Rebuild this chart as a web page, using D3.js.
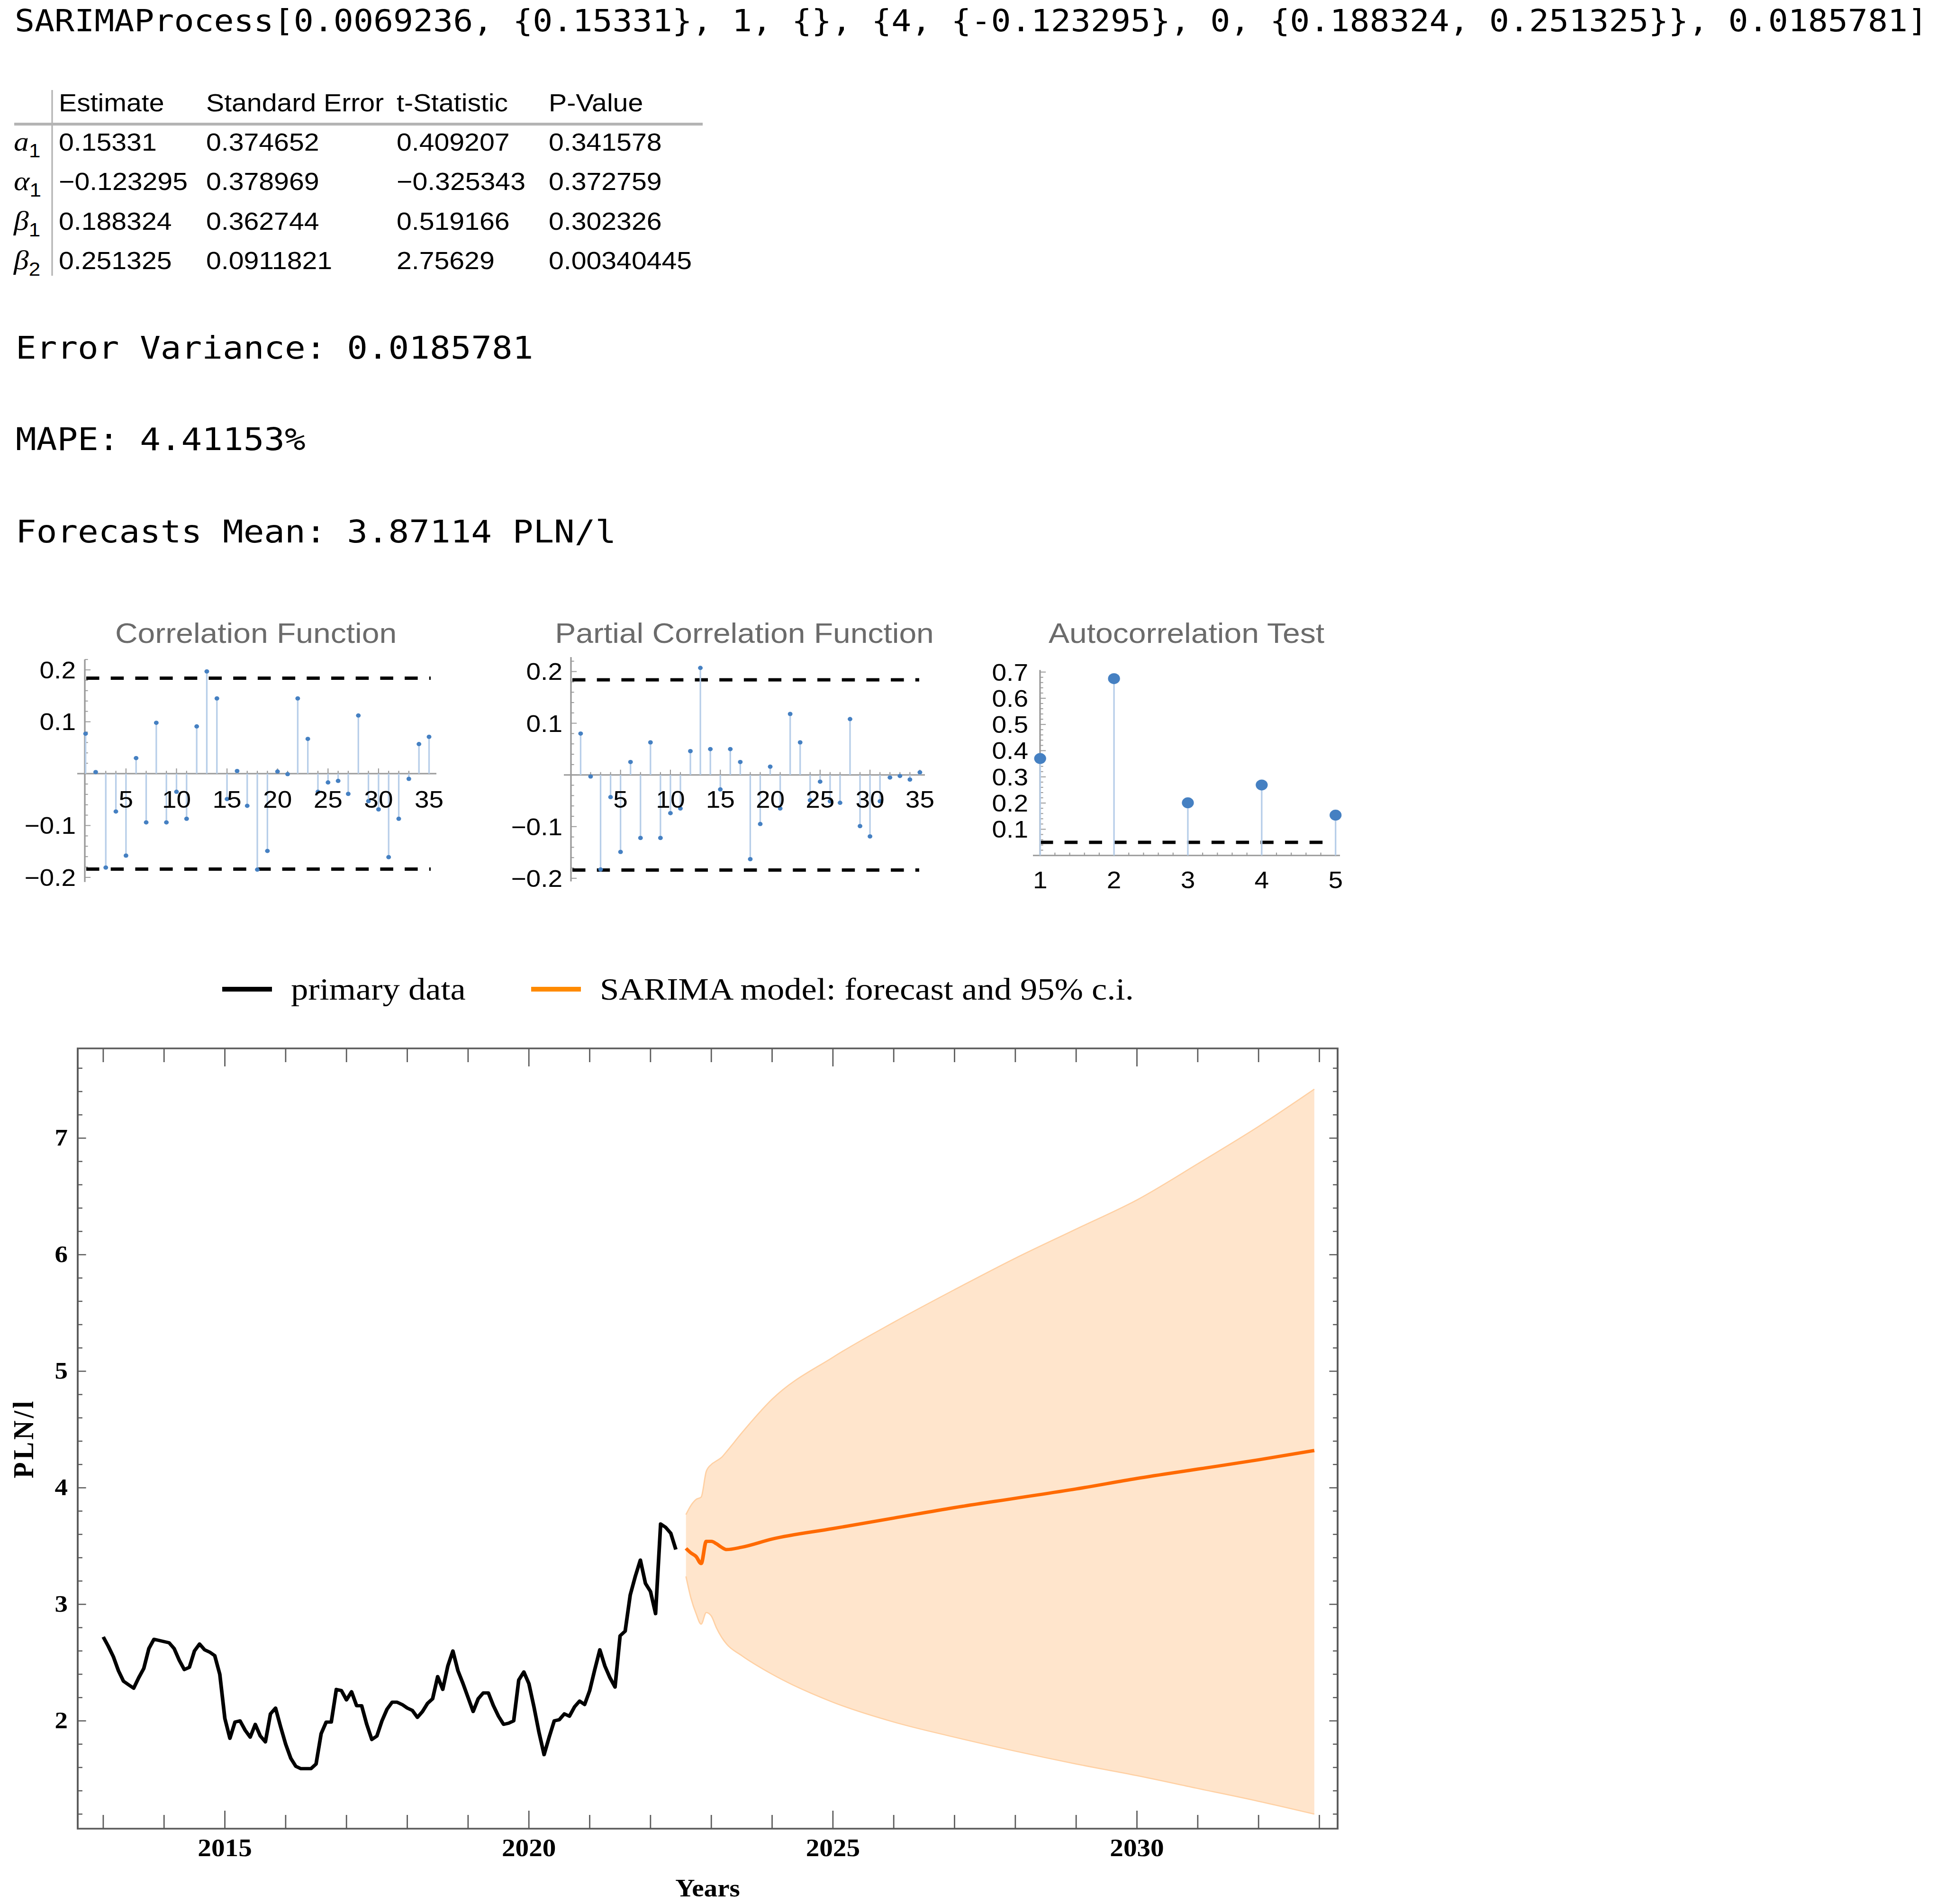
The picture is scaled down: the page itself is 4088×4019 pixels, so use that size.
<!DOCTYPE html>
<html>
<head>
<meta charset="utf-8">
<script src="https://cdn.jsdelivr.net/npm/d3@7"></script>
<style>
  html, body { margin: 0; padding: 0; background: #fff; }
  svg { display: block; }
</style>
</head>
<body>
<svg id="chart"></svg>
<script>
// ---------------- data ----------------
const processText = 'SARIMAProcess[0.0069236, {0.15331}, 1, {}, {4, {-0.123295}, 0, {0.188324, 0.251325}}, 0.0185781]'
const summaryLines = ['Error Variance: 0.0185781', 'MAPE: 4.41153%', 'Forecasts Mean: 3.87114 PLN/l']

const tableHeader = ['Estimate', 'Standard Error', 't-Statistic', 'P-Value']
const paramSymbols = ['a', 'α', 'β', 'β']
const paramIndex = ['1', '1', '1', '2']
const estimates = ['0.15331', '−0.123295', '0.188324', '0.251325']
const stdErrors = ['0.374652', '0.378969', '0.362744', '0.0911821']
const tStats = ['0.409207', '−0.325343', '0.519166', '2.75629']
const pValues = ['0.341578', '0.372759', '0.302326', '0.00340445']

// residual correlation functions, lags 1..35
const acfValues = [0.077, 0.003, -0.181, -0.073, -0.158, 0.030, -0.094, 0.098, -0.094, -0.035,
  -0.087, 0.091, 0.197, 0.145, -0.049, 0.005, -0.062, -0.185, -0.149, 0.004,
  -0.001, 0.145, 0.067, -0.035, -0.017, -0.014, -0.039, 0.112, -0.053, -0.069,
  -0.161, -0.087, -0.010, 0.057, 0.071]
const pacfValues = [0.080, -0.003, -0.183, -0.043, -0.149, 0.025, -0.122, 0.063, -0.122, -0.074,
  -0.065, 0.046, 0.207, 0.050, -0.028, 0.050, 0.025, -0.163, -0.095, 0.016,
  -0.065, 0.118, 0.063, -0.049, -0.013, -0.051, -0.054, 0.108, -0.099, -0.119,
  -0.051, -0.005, -0.002, -0.009, 0.005]
const corrBound = 0.184
const corrTicks = [-0.2, -0.1, 0.1, 0.2]
const lagTicks = [5, 10, 15, 20, 25, 30, 35]

// autocorrelation test p-values
const testLags = [1, 2, 3, 4, 5]
const testPValues = [0.370, 0.675, 0.201, 0.269, 0.154]
const testLevel = 0.05
const testTicks = [0.1, 0.2, 0.3, 0.4, 0.5, 0.6, 0.7]

// primary monthly series (PLN/l), from Jan 2013
const primaryStart = 2013
const primaryData = [2.72, 2.64, 2.55, 2.43, 2.34, 2.31, 2.28, 2.37, 2.45, 2.62,
  2.70, 2.69, 2.68, 2.67, 2.62, 2.52, 2.44, 2.46, 2.60, 2.66,
  2.61, 2.59, 2.56, 2.40, 2.02, 1.85, 1.99, 2.00, 1.92, 1.86,
  1.97, 1.87, 1.82, 2.06, 2.11, 1.95, 1.80, 1.68, 1.61, 1.59,
  1.59, 1.59, 1.63, 1.89, 1.99, 1.99, 2.27, 2.26, 2.18, 2.25,
  2.13, 2.13, 1.97, 1.84, 1.87, 2.00, 2.10, 2.16, 2.16, 2.14,
  2.11, 2.09, 2.03, 2.08, 2.15, 2.19, 2.38, 2.27, 2.47, 2.60,
  2.43, 2.32, 2.20, 2.08, 2.19, 2.24, 2.24, 2.13, 2.04, 1.97,
  1.98, 2.00, 2.35, 2.42, 2.32, 2.12, 1.90, 1.71, 1.86, 2.00,
  2.01, 2.06, 2.04, 2.12, 2.17, 2.14, 2.26, 2.44, 2.61, 2.47,
  2.37, 2.29, 2.73, 2.77, 3.08, 3.24, 3.38, 3.18, 3.11, 2.92,
  3.69, 3.66, 3.61, 3.47]

// SARIMA forecast and 95% c.i.
const forecastYears = [2022.583, 2022.667, 2022.75, 2022.833, 2022.917, 2023.0, 2023.083, 2023.167, 2023.25, 2023.5,
  2024, 2025, 2026, 2027, 2028, 2029, 2030, 2031, 2032, 2032.917]
const forecastMean = [3.48, 3.44, 3.41, 3.35, 3.54, 3.54, 3.52, 3.49, 3.47, 3.49,
  3.56, 3.65, 3.74, 3.83, 3.91, 3.99, 4.08, 4.16, 4.24, 4.32]
const forecastUpper = [3.77, 3.85, 3.90, 3.92, 4.14, 4.20, 4.23, 4.26, 4.31, 4.47,
  4.76, 5.12, 5.42, 5.70, 5.97, 6.22, 6.47, 6.78, 7.10, 7.42]
const forecastLower = [3.24, 3.05, 2.92, 2.83, 2.93, 2.90, 2.80, 2.72, 2.66, 2.56,
  2.40, 2.16, 1.99, 1.86, 1.74, 1.63, 1.53, 1.42, 1.31, 1.20]

const yearTicks = d3.range(2013, 2034)
const yearLabels = [2015, 2020, 2025, 2030]
const priceLabels = [2, 3, 4, 5, 6, 7]

// ---------------- setup ----------------
// the reference is slightly stretched horizontally, so draw in a narrower
// viewBox and let the svg stretch it back out
const SX = 1.1
const H = 4019
const W = 4088 / SX
const vx = (px) => px / SX

const MONO = "'DejaVu Sans Mono', monospace"
const SANS = "'Liberation Sans', Arial, sans-serif"
const SERIF = "'Liberation Serif', 'Times New Roman', serif"

const svg = d3.select('#chart')
  .attr('width', 4088)
  .attr('height', H)
  .attr('viewBox', `0 0 ${W} ${H}`)
  .attr('preserveAspectRatio', 'none')

svg.append('rect').attr('width', W).attr('height', H).attr('fill', '#fff')

// ---------------- text output ----------------
svg.append('text')
  .attr('x', vx(31)).attr('y', 66)
  .attr('font-family', MONO).attr('font-size', 63.5)
  .attr('xml:space', 'preserve')
  .text(processText)

svg.selectAll('.summary')
  .data(summaryLines)
  .enter()
  .append('text')
  .classed('summary', true)
  .attr('x', vx(33))
  .attr('y', (d, i) => [757, 950, 1145][i])
  .attr('font-family', MONO).attr('font-size', 66)
  .attr('xml:space', 'preserve')
  .text((d) => d)

// ---------------- parameter table ----------------
const table = svg.append('g').attr('font-family', SANS).attr('font-size', 52)
const colX = [124, 435, 837, 1158]
const rowY = [318, 401, 485, 568]

table.append('line')
  .attr('x1', vx(110)).attr('x2', vx(110))
  .attr('y1', 190).attr('y2', 582)
  .attr('stroke', '#b4b4b4').attr('stroke-width', 3)
table.append('line')
  .attr('x1', vx(30)).attr('x2', vx(1483))
  .attr('y1', 262).attr('y2', 262)
  .attr('stroke', '#b4b4b4').attr('stroke-width', 6)

table.selectAll('.head')
  .data(tableHeader)
  .enter()
  .append('text')
  .attr('x', (d, i) => vx(colX[i]))
  .attr('y', 235)
  .text((d) => d)

const columns = [estimates, stdErrors, tStats, pValues]
columns.forEach((col, c) => {
  table.selectAll('.col' + c)
    .data(col)
    .enter()
    .append('text')
    .attr('x', vx(colX[c]))
    .attr('y', (d, i) => rowY[i])
    .text((d) => d)
})

paramSymbols.forEach((s, i) => {
  const t = table.append('text')
    .attr('x', vx(29)).attr('y', rowY[i])
    .attr('font-family', SERIF).attr('font-style', 'italic').attr('font-size', 58)
  t.append('tspan').text(s)
  t.append('tspan').attr('dy', 14).attr('font-size', 40).attr('font-style', 'normal')
    .attr('font-family', SANS).text(paramIndex[i])
})

// ---------------- stem plots ----------------
function stemPlot (cfg) {
  const g = svg.append('g')
  const xs = d3.scaleLinear().domain(cfg.xDomain).range(cfg.xRange.map(vx))
  const ys = d3.scaleLinear().domain(cfg.yDomain).range(cfg.yRange)

  g.append('text')
    .attr('x', vx(cfg.titleX)).attr('y', 1357)
    .attr('text-anchor', 'middle')
    .attr('font-family', SANS).attr('font-size', 60)
    .attr('fill', '#6b6b6b')
    .text(cfg.title)

  // axes
  g.append('line')
    .attr('x1', vx(cfg.xAxis[0])).attr('x2', vx(cfg.xAxis[1]))
    .attr('y1', ys(0)).attr('y2', ys(0))
    .attr('stroke', '#9a9a9a').attr('stroke-width', 3)
  g.append('line')
    .attr('x1', vx(cfg.yAxisX)).attr('x2', vx(cfg.yAxisX))
    .attr('y1', ys(cfg.yAxis[0])).attr('y2', ys(cfg.yAxis[1]))
    .attr('stroke', '#9a9a9a').attr('stroke-width', 3)

  // y ticks
  g.selectAll('.ytick')
    .data(cfg.yMinor)
    .enter()
    .append('line')
    .attr('x1', vx(cfg.yAxisX))
    .attr('x2', (d) => vx(cfg.yAxisX) + (cfg.yMajor.some((m) => Math.abs(m - d) < 1e-6) ? 11 : 6))
    .attr('y1', (d) => ys(d)).attr('y2', (d) => ys(d))
    .attr('stroke', '#9a9a9a').attr('stroke-width', 2)

  // x ticks
  g.selectAll('.xtick')
    .data(cfg.xMinor)
    .enter()
    .append('line')
    .attr('x1', (d) => xs(d)).attr('x2', (d) => xs(d))
    .attr('y1', ys(0))
    .attr('y2', (d) => ys(0) - (cfg.xMajor.includes(d) ? 11 : 6))
    .attr('stroke', '#9a9a9a').attr('stroke-width', 2)

  // confidence bound(s)
  g.selectAll('.bound')
    .data(cfg.bounds)
    .enter()
    .append('line')
    .attr('x1', vx(cfg.dash[0])).attr('x2', vx(cfg.dash[1]))
    .attr('y1', (d) => ys(d)).attr('y2', (d) => ys(d))
    .attr('stroke', '#000').attr('stroke-width', 7)
    .attr('stroke-dasharray', '25 22')

  // stems and dots
  g.selectAll('.stem')
    .data(cfg.values)
    .enter()
    .append('line')
    .attr('x1', (d, i) => xs(cfg.lags[i])).attr('x2', (d, i) => xs(cfg.lags[i]))
    .attr('y1', ys(0)).attr('y2', (d) => ys(d))
    .attr('stroke', '#b7cee9').attr('stroke-width', 3)

  g.selectAll('.dot')
    .data(cfg.values)
    .enter()
    .append('circle')
    .attr('cx', (d, i) => xs(cfg.lags[i]))
    .attr('cy', (d) => ys(d))
    .attr('r', cfg.radius)
    .attr('fill', '#4580c2')

  // tick labels
  g.selectAll('.ylab')
    .data(cfg.yLabels)
    .enter()
    .append('text')
    .attr('x', vx(cfg.yLabelX))
    .attr('y', (d) => ys(d) + 18)
    .attr('text-anchor', 'end')
    .attr('font-family', SANS).attr('font-size', 50)
    .text((d) => d3.format('.1f')(d).replace('-', '−'))

  g.selectAll('.xlab')
    .data(cfg.xMajor)
    .enter()
    .append('text')
    .attr('x', (d) => xs(d))
    .attr('y', cfg.xLabelY)
    .attr('text-anchor', 'middle')
    .attr('font-family', SANS).attr('font-size', 50)
    .text((d) => d)
}

const lagRange = d3.range(1, 36)

stemPlot({
  title: 'Correlation Function', titleX: 540,
  lags: lagRange, values: acfValues, radius: 4.5,
  xDomain: [1, 35], xRange: [180.6, 905.5],
  yDomain: [0, 0.2], yRange: [1633, 1414],
  xAxis: [163, 921], yAxisX: 179, yAxis: [-0.209, 0.22],
  yMinor: d3.range(-20, 23, 2).map((v) => v / 100), yMajor: [-0.2, -0.1, 0, 0.1, 0.2],
  xMinor: lagRange, xMajor: lagTicks,
  bounds: [corrBound, -corrBound], dash: [182, 909],
  yLabels: corrTicks, yLabelX: 160, xLabelY: 1705
})

stemPlot({
  title: 'Partial Correlation Function', titleX: 1571,
  lags: lagRange, values: pacfValues, radius: 4.5,
  xDomain: [1, 35], xRange: [1225.4, 1941.4],
  yDomain: [0, 0.2], yRange: [1635.7, 1417.5],
  xAxis: [1190, 1952], yAxisX: 1205, yAxis: [-0.206, 0.228],
  yMinor: d3.range(-20, 23, 2).map((v) => v / 100), yMajor: [-0.2, -0.1, 0, 0.1, 0.2],
  xMinor: lagRange, xMajor: lagTicks,
  bounds: [corrBound, -corrBound], dash: [1208, 1940],
  yLabels: corrTicks, yLabelX: 1187, xLabelY: 1705
})

stemPlot({
  title: 'Autocorrelation Test', titleX: 2504,
  lags: testLags, values: testPValues, radius: 11.5,
  xDomain: [1, 5], xRange: [2195.2, 2818.7],
  yDomain: [0, 0.7], yRange: [1805.7, 1418.6],
  xAxis: [2180, 2828], yAxisX: 2195, yAxis: [0, 0.708],
  yMinor: d3.range(2, 71, 2).map((v) => v / 100), yMajor: testTicks,
  xMinor: d3.range(5, 26).map((v) => v / 5), xMajor: testLags,
  bounds: [testLevel], dash: [2195, 2800],
  yLabels: testTicks, yLabelX: 2170, xLabelY: 1875
})

// ---------------- legend ----------------
const legend = svg.append('g').attr('font-family', SERIF).attr('font-size', 66)
const legendItems = [
  {label: 'primary data', color: '#000', x: 469},
  {label: 'SARIMA model: forecast and 95% c.i.', color: '#ff8a00', x: 1121}
]
legendItems.forEach((it) => {
  legend.append('line')
    .attr('x1', vx(it.x)).attr('x2', vx(it.x + 105))
    .attr('y1', 2088).attr('y2', 2088)
    .attr('stroke', it.color).attr('stroke-width', 10)
  legend.append('text')
    .attr('x', vx(it.x + 145)).attr('y', 2110)
    .text(it.label)
})

// ---------------- main forecast chart ----------------
const frame = {left: 164, right: 2823, top: 2213, bottom: 3860}
const x = d3.scaleLinear().domain([2012.58, 2033.3]).range([vx(frame.left), vx(frame.right)])
const y = d3.scaleLinear().domain([1.075, 7.77]).range([frame.bottom, frame.top])

const main = svg.append('g')

const primary = primaryData.map((v, i) => ({t: primaryStart + i / 12, v: v}))
const forecast = forecastYears.map((t, i) => ({
  t: t, m: forecastMean[i], lo: forecastLower[i], hi: forecastUpper[i]
}))

main.append('path')
  .datum(forecast)
  .attr('d', d3.area().curve(d3.curveMonotoneX)
    .x((d) => x(d.t)).y0((d) => y(d.lo)).y1((d) => y(d.hi)))
  .attr('fill', '#ffe5cc')

const edge = (key) => d3.line().curve(d3.curveMonotoneX).x((d) => x(d.t)).y((d) => y(d[key]))
;['hi', 'lo'].forEach((k) => {
  main.append('path')
    .datum(forecast)
    .attr('d', edge(k))
    .attr('fill', 'none')
    .attr('stroke', '#ffd0a3').attr('stroke-width', 2.5)
})

main.append('path')
  .datum(primary)
  .attr('d', d3.line().x((d) => x(d.t)).y((d) => y(d.v)))
  .attr('fill', 'none')
  .attr('stroke', '#000').attr('stroke-width', 7)
  .attr('stroke-linejoin', 'round')

main.append('path')
  .datum(forecast)
  .attr('d', edge('m'))
  .attr('fill', 'none')
  .attr('stroke', '#ff6a00').attr('stroke-width', 7)
  .attr('stroke-linejoin', 'round')

// frame
main.append('rect')
  .attr('x', vx(frame.left)).attr('y', frame.top)
  .attr('width', vx(frame.right) - vx(frame.left))
  .attr('height', frame.bottom - frame.top)
  .attr('fill', 'none')
  .attr('stroke', '#5a5a5a').attr('stroke-width', 3.5)

// year ticks, bottom and top
const yearTick = (d) => (d % 5 === 0 ? 38 : 29)
main.selectAll('.xb')
  .data(yearTicks)
  .enter()
  .append('line')
  .attr('x1', (d) => x(d)).attr('x2', (d) => x(d))
  .attr('y1', frame.bottom).attr('y2', (d) => frame.bottom - yearTick(d))
  .attr('stroke', '#5a5a5a').attr('stroke-width', 2.5)
main.selectAll('.xt')
  .data(yearTicks)
  .enter()
  .append('line')
  .attr('x1', (d) => x(d)).attr('x2', (d) => x(d))
  .attr('y1', frame.top).attr('y2', (d) => frame.top + yearTick(d))
  .attr('stroke', '#5a5a5a').attr('stroke-width', 2.5)

// price ticks, left and right
const priceTicks = d3.range(6, 39).map((v) => v / 5)
const priceTick = (d) => (Math.abs(d - Math.round(d)) < 1e-6 ? 16 : 9)
main.selectAll('.yl')
  .data(priceTicks)
  .enter()
  .append('line')
  .attr('x1', vx(frame.left)).attr('x2', (d) => vx(frame.left) + priceTick(d))
  .attr('y1', (d) => y(d)).attr('y2', (d) => y(d))
  .attr('stroke', '#5a5a5a').attr('stroke-width', 2.5)
main.selectAll('.yr')
  .data(priceTicks)
  .enter()
  .append('line')
  .attr('x1', vx(frame.right)).attr('x2', (d) => vx(frame.right) - priceTick(d))
  .attr('y1', (d) => y(d)).attr('y2', (d) => y(d))
  .attr('stroke', '#5a5a5a').attr('stroke-width', 2.5)

// tick labels
main.selectAll('.ylab')
  .data(priceLabels)
  .enter()
  .append('text')
  .attr('x', vx(143))
  .attr('y', (d) => y(d) + 16)
  .attr('text-anchor', 'end')
  .attr('font-family', SERIF).attr('font-weight', 'bold').attr('font-size', 50)
  .text((d) => d)

main.selectAll('.xlab')
  .data(yearLabels)
  .enter()
  .append('text')
  .attr('x', (d) => x(d))
  .attr('y', 3918)
  .attr('text-anchor', 'middle')
  .attr('font-family', SERIF).attr('font-weight', 'bold').attr('font-size', 52)
  .text((d) => d)

main.append('text')
  .attr('x', (vx(frame.left) + vx(frame.right)) / 2)
  .attr('y', 4003)
  .attr('text-anchor', 'middle')
  .attr('font-family', SERIF).attr('font-weight', 'bold').attr('font-size', 52)
  .text('Years')

main.append('text')
  .attr('transform', `translate(${vx(70)},${(frame.top + frame.bottom) / 2}) rotate(-90)`)
  .attr('text-anchor', 'middle')
  .attr('font-family', SERIF).attr('font-weight', 'bold').attr('font-size', 56)
  .attr('letter-spacing', 5)
  .text('PLN/l')
</script>
</body>
</html>
